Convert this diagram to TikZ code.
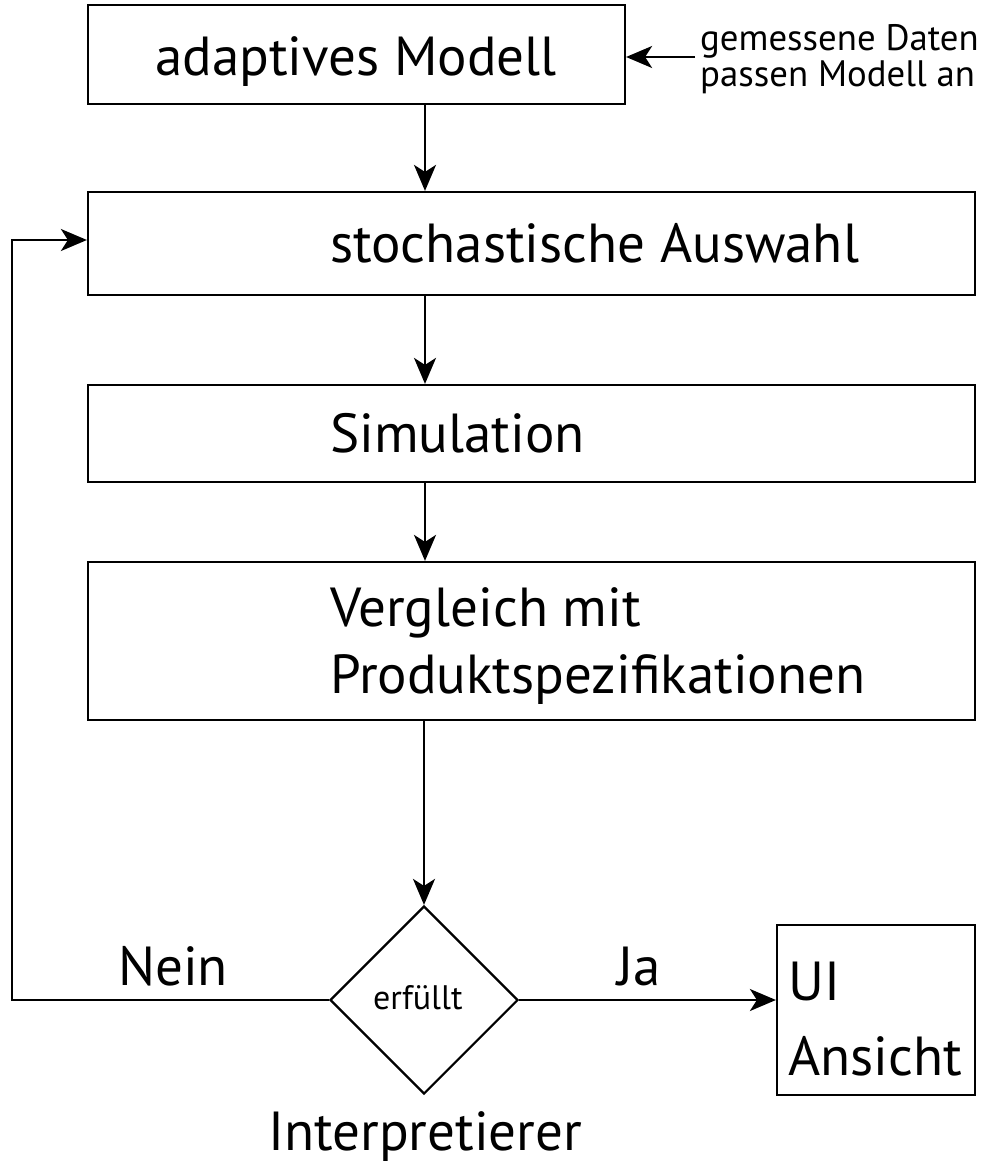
\documentclass[tikz,border=0pt]{standalone}
\usepackage{fontspec}
\setmainfont{PT Sans}
\usetikzlibrary{arrows.meta,shapes.geometric}
\tikzset{
  box/.style={draw, line width=2.2pt, inner sep=0pt},
  arr/.style={line width=2.2pt, -{Stealth[length=26pt,width=22pt,inset=7pt]}},
  big/.style={inner sep=0pt, anchor=base west, font=\fontsize{55}{60}\selectfont},
  mid/.style={inner sep=0pt, anchor=base west, font=\fontsize{36.8}{40}\selectfont},
  small/.style={inner sep=0pt, anchor=base west, font=\fontsize{34}{38}\selectfont},
}
\begin{document}
\begin{tikzpicture}[x=1pt,y=-1pt]
\useasboundingbox (0,0) rectangle (985,1167);
% boxes
\node[box, minimum width=537pt, minimum height=99pt] (m) at (356.5,54.5) {};
\node[box, minimum width=887pt, minimum height=103pt] (s) at (531.5,243.5) {};
\node[box, minimum width=887pt, minimum height=97pt] (sim) at (531.5,433.5) {};
\node[box, minimum width=887pt, minimum height=158pt] (v) at (531.5,641) {};
\node[box, shape=diamond, aspect=1, minimum width=188pt, minimum height=188pt] (d) at (424,1000) {};
\node[box, minimum width=198pt, minimum height=170pt] (ui) at (876,1010) {};
% texts
\node[big] (tm) at (155,75) {adaptives Modell};
\node[big] (ts) at (330,262) {stochastische Auswahl};
\node[big] (tsim) at (330,452) {Simulation};
\node[big] (tv1) at (330,626) {Vergleich mit};
\node[big] (tv2) at (330,693) {Produktspezifikationen};
\node[mid] (g1) at (700,50) {gemessene Daten};
\node[mid] (g2) at (700,86) {passen Modell an};
\node[big] (nein) at (118,985) {Nein};
\node[big] (ja) at (617,985) {Ja};
\node[small] (erf) at (373,1009) {erfüllt};
\node[big] (tui1) at (788,1000) {UI};
\node[big] (tui2) at (788,1075) {Ansicht};
\node[big] (interp) at (268,1150) {Interpretierer};
% connectors
\coordinate (in) at (695,57);
\coordinate (c1) at (12,1000);
\coordinate (c2) at (12,240);
\draw[arr] (in) -- (m.east |- in);
\draw[arr] (m.south -| 425,0) -- (s.north -| 425,0);
\draw[arr] (s.south -| 425,0) -- (sim.north -| 425,0);
\draw[arr] (sim.south -| 425,0) -- (v.north -| 425,0);
\draw[arr] (v.south -| d.north) -- (d.north);
\draw[arr] (d.west) -- (c1) -- (c2) -- (s.west |- c2);
\draw[arr] (d.east) -- (ui.west |- d.east);
\end{tikzpicture}
\end{document}
